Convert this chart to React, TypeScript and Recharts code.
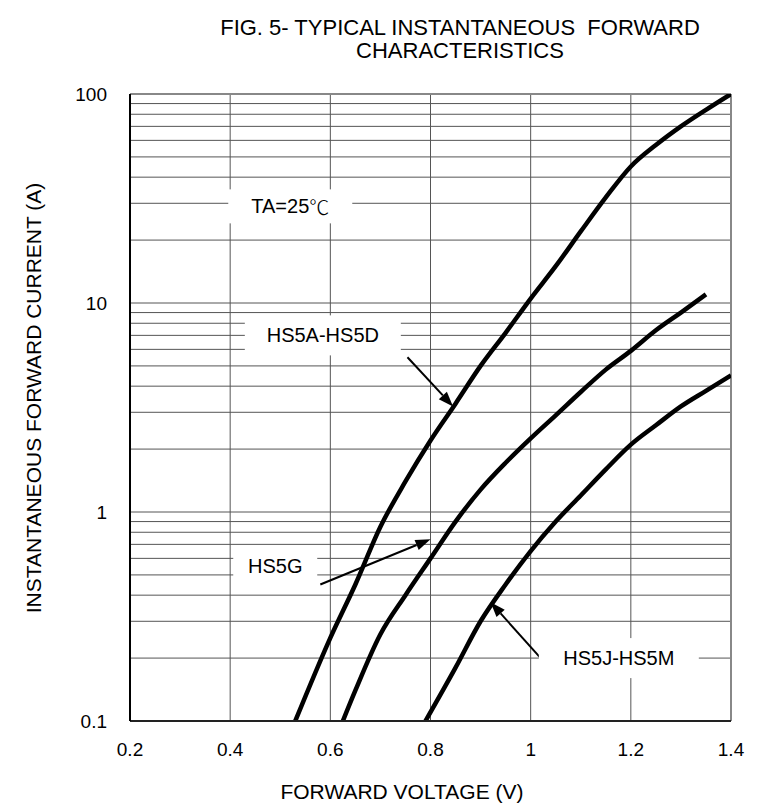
import { CartesianGrid, Line, LineChart, ReferenceDot, ReferenceLine, XAxis, YAxis } from "recharts"

const FONT = "'Liberation Sans', Arial, sans-serif"

const X_TICKS = [0.2, 0.4, 0.6, 0.8, 1, 1.2, 1.4]
const Y_LABELS = [0.1, 1, 10, 100]
const Y_GRID = [
  0.1, 0.2, 0.3, 0.4, 0.5, 0.6, 0.7, 0.8, 0.9,
  1, 2, 3, 4, 5, 6, 7, 8, 9,
  10, 20, 30, 40, 50, 60, 70, 80, 90, 100,
]

// HS5A-HS5D
const VF_AD = [0.53, 0.6, 0.65, 0.7, 0.75, 0.8, 0.85, 0.9, 0.95, 1.0, 1.05, 1.1, 1.15, 1.2, 1.25, 1.3, 1.35, 1.4]
const IF_AD = [0.1, 0.25, 0.45, 0.85, 1.4, 2.2, 3.3, 5, 7.2, 10.5, 15, 22, 32, 45, 57, 70, 84, 100]
// HS5G
const VF_G = [0.625, 0.65, 0.7, 0.75, 0.8, 0.85, 0.9, 0.95, 1.0, 1.05, 1.1, 1.15, 1.2, 1.25, 1.3, 1.35]
const IF_G = [0.1, 0.14, 0.26, 0.4, 0.6, 0.9, 1.28, 1.72, 2.25, 2.9, 3.75, 4.8, 5.9, 7.4, 9, 11]
// HS5J-HS5M
const VF_JM = [0.79, 0.85, 0.9, 0.95, 1.0, 1.05, 1.1, 1.15, 1.2, 1.25, 1.3, 1.35, 1.4]
const IF_JM = [0.1, 0.18, 0.3, 0.45, 0.65, 0.9, 1.2, 1.6, 2.1, 2.6, 3.2, 3.8, 4.5]

const toPoints = (vs: number[], is: number[]) => vs.map((v, k) => ({ v, i: is[k] }))

const boxLabel = (text: string, w: number, h: number) => (props: any) => {
  const { cx, cy } = props
  return (
    <g>
      <rect x={cx - w / 2} y={cy - h / 2} width={w} height={h} fill="#fff" />
      <text x={cx} y={cy} textAnchor="middle" dominantBaseline="central" fontSize={20} fontFamily={FONT} fill="#000">
        {text}
      </text>
    </g>
  )
}

const tempLabel = (w: number, h: number) => (props: any) => {
  const { cx, cy } = props
  return (
    <g>
      <rect x={cx - w / 2} y={cy - h / 2} width={w} height={h} fill="#fff" />
      <text x={cx} y={cy} textAnchor="middle" dominantBaseline="central" fontSize={20} fontFamily={FONT} fill="#000">
        TA=25
        <tspan fontFamily="'Noto Sans CJK SC', 'DejaVu Sans'" fontWeight={300}>
          {"\u2103"}
        </tspan>
      </text>
    </g>
  )
}

const arrowShape = (props: any) => {
  const { x1, y1, x2, y2 } = props
  const ang = Math.atan2(y2 - y1, x2 - x1)
  const len = 15
  const half = 5.5
  const bx = x2 - len * Math.cos(ang)
  const by = y2 - len * Math.sin(ang)
  const px = -Math.sin(ang) * half
  const py = Math.cos(ang) * half
  return (
    <g>
      <line x1={x1} y1={y1} x2={bx} y2={by} stroke="#000" strokeWidth={2} />
      <polygon points={`${x2},${y2} ${bx + px},${by + py} ${bx - px},${by - py}`} fill="#000" />
    </g>
  )
}

export default function App() {
  return (
    <div style={{ position: "absolute", left: 0, top: 0, width: 763, height: 807, background: "#fff", fontFamily: FONT }}>
      <div style={{ position: "absolute", left: 160, width: 600, top: 16, textAlign: "center", fontSize: 22, lineHeight: "23px" }}>
        FIG. 5- TYPICAL INSTANTANEOUS&nbsp;&nbsp;FORWARD
        <br />
        CHARACTERISTICS
      </div>
      <div style={{ position: "absolute", left: 202, width: 400, top: 780, textAlign: "center", fontSize: 21 }}>
        FORWARD VOLTAGE (V)
      </div>
      <div
        style={{
          position: "absolute",
          left: 34,
          top: 398,
          width: 500,
          textAlign: "center",
          fontSize: 21,
          transform: "translate(-50%, -50%) rotate(-90deg)",
          whiteSpace: "nowrap",
        }}
      >
        INSTANTANEOUS FORWARD CURRENT (A)
      </div>
      <LineChart width={763} height={807} margin={{ top: 94, right: 32, bottom: 36, left: 0 }} style={{ position: "absolute", left: 0, top: 0 }}>
        <CartesianGrid stroke="#555" strokeWidth={1} />
        <XAxis
          type="number"
          dataKey="v"
          domain={[0.2, 1.4]}
          ticks={X_TICKS}
          interval={0}
          height={50}
          allowDataOverflow
          tickLine={false}
          tickSize={0}
          tickMargin={22}
          axisLine={{ stroke: "#222", strokeWidth: 2 }}
          tick={{ fill: "#000", fontSize: 19, fontFamily: FONT }}
        />
        <YAxis
          type="number"
          scale="log"
          domain={[0.1, 100]}
          ticks={Y_GRID}
          interval={0}
          width={130}
          allowDataOverflow
          tickLine={false}
          tickSize={0}
          tickMargin={23}
          tickFormatter={(v: number) => (Y_LABELS.includes(v) ? String(v) : "")}
          axisLine={{ stroke: "#000", strokeWidth: 2 }}
          tick={{ fill: "#000", fontSize: 19, fontFamily: FONT }}
        />
        <ReferenceLine y={100} stroke="#888" strokeWidth={2} />
        <ReferenceLine x={1.4} stroke="#888" strokeWidth={2} />

        <ReferenceDot x={0.52} y={29} r={1} shape={tempLabel(124, 34)} />
        <ReferenceDot x={0.585} y={7} r={1} shape={boxLabel("HS5A-HS5D", 156, 40)} />
        <ReferenceDot x={0.49} y={0.55} r={1} shape={boxLabel("HS5G", 84, 36)} />
        <ReferenceDot x={1.176} y={0.2} r={1} shape={boxLabel("HS5J-HS5M", 160, 40)} />

        <ReferenceLine segment={[{ x: 0.754, y: 5.5 }, { x: 0.845, y: 3.2 }]} shape={arrowShape} />
        <ReferenceLine segment={[{ x: 0.58, y: 0.45 }, { x: 0.8, y: 0.74 }]} shape={arrowShape} />
        <ReferenceLine segment={[{ x: 1.02, y: 0.2 }, { x: 0.92, y: 0.37 }]} shape={arrowShape} />

        <Line data={toPoints(VF_AD, IF_AD)} dataKey="i" type="monotone" stroke="#000" strokeWidth={4.5} dot={false} isAnimationActive={false} />
        <Line data={toPoints(VF_G, IF_G)} dataKey="i" type="monotone" stroke="#000" strokeWidth={4.5} dot={false} isAnimationActive={false} />
        <Line data={toPoints(VF_JM, IF_JM)} dataKey="i" type="monotone" stroke="#000" strokeWidth={4.5} dot={false} isAnimationActive={false} />
      </LineChart>
    </div>
  )
}
